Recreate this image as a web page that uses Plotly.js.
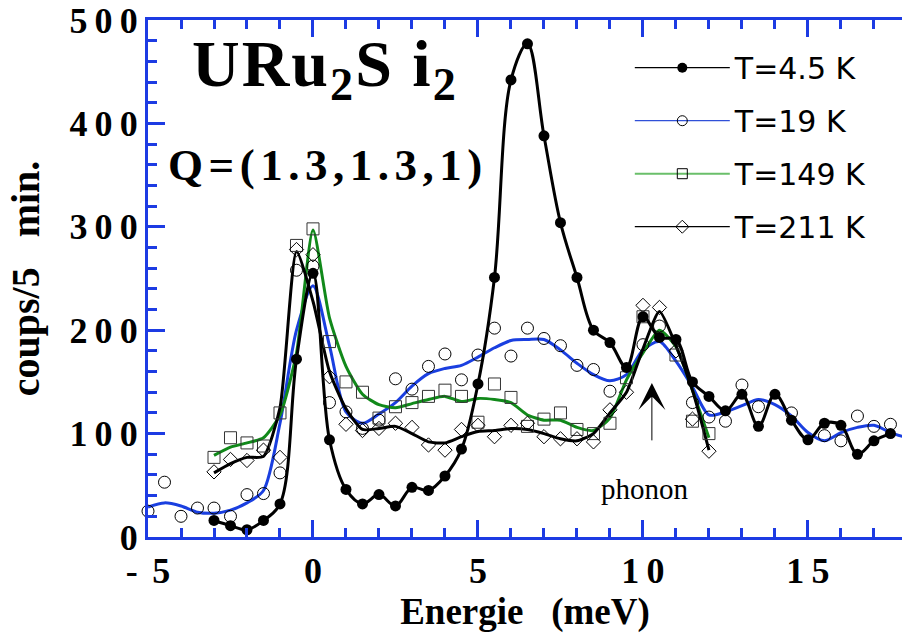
<!DOCTYPE html>
<html>
<head>
<meta charset="utf-8">
<script src="https://cdn.plot.ly/plotly-3.0.1.min.js"></script>
<style>html,body{margin:0;padding:0;background:#fff;}#chart{width:902px;height:633px;}</style>
</head>
<body>
<div id="chart"></div>
<script>
// ---- data (energy in meV, counts per 5 min) ----
// T = 4.5 K : filled circles (line through the points)
const e45 = [-3,-2.5,-2,-1.5,-1,-0.5,0,0.5,1,1.5,2,2.5,3,3.5,4,4.5,5,5.5,6,6.5,7,7.5,8,8.5,9,9.5,10,10.5,11,11.5,12,12.5,13,13.5,14,14.5,15,15.5,16,16.5,17,17.5];
const c45 = [16,11,7,16,32,172,255,94,46,32,41,30,48,45,59,85,148,251,442,477,388,304,251,200,188,164,213,193,191,150,136,122,138,107,138,113,94,110,108,80,93,100];

// T = 19 K : open circles
const e19 = [-5,-4.5,-4,-3.5,-3,-2.5,-2,-1.5,-1,-0.5,0,0.5,1,1.5,2,2.5,3,3.5,4,4.5,5,5.5,6,6.5,7,7.5,8,8.5,9,10,10.5,11.5,12,12.5,13,13.5,14.5,15.5,16,16.5,17,17.5];
const c19 = [25,53,20,28,28,20,41,42,62,258,262,130,121,105,113,153,143,165,177,152,176,202,175,202,192,185,166,162,141,186,204,130,116,112,147,126,120,98,93,117,107,109];
// T = 19 K : smoothed curve (blue)
const fit19e = [-5,-4.5,-4,-3.5,-3,-2.5,-2,-1.5,-1,-0.5,0,0.5,1,1.5,2,2.5,3,3.5,4,4.5,5,5.5,6,6.5,7,7.5,8,8.5,9,9.5,10,10.5,11,11.5,12,12.5,13,13.5,14,14.5,15,15.5,16,16.5,17,17.5,17.9];
const fit19c = [29,33,30,24,23,26,33,45,110,200,243,185,121,110,119,130,146,158,163,166,174,183,190,191,191,181,168,157,151,157,181,189,170,145,118,121,127,133,128,117,101,93,101,106,108,101,97];

// T = 149 K : open squares
const e149 = [-3,-2.5,-2,-1.5,-1,-0.5,0,0.5,1,1.5,2,2.5,3,3.5,4,4.5,5,5.5,6,6.5,7,7.5,8,8.5,9,9.5,10,11,11.5,12];
const c149 = [77,96,91,88,120,282,298,189,150,140,115,126,130,136,142,136,111,148,135,107,114,120,104,100,110,154,213,176,112,100];
// T = 149 K : smoothed curve (green)
const fit149e = [-3,-2.5,-2,-1.5,-1,-0.5,0,0.5,1,1.5,2,2.5,3,3.5,4,4.5,5,5.5,6,6.5,7,7.5,8,8.5,9,9.5,10,10.5,11,11.5,12];
const fit149c = [79,87,91,96,118,178,297,212,165,138,128,125,129,133,136,131,134,133,130,118,113,113,106,103,115,152,178,200,184,142,96];

// T = 211 K : open diamonds
const e211 = [-3,-2.5,-2,-1.5,-1,-0.5,0,0.5,1,1.5,2,2.5,3,3.5,4,4.5,5,5.5,6,6.5,7,7.5,8,8.5,9,9.5,10,10.5,11,11.5,12];
const c211 = [63,75,74,84,77,278,273,155,109,103,105,110,106,89,84,104,108,97,108,110,97,95,95,92,123,140,224,222,180,114,83];
// T = 211 K : smoothed curve (black)
const fit211e = [-3,-2.5,-2,-1.5,-1,-0.5,0,0.5,1,1.5,2,2.5,3,3.5,4,4.5,5,5.5,6,6.5,7,7.5,8,8.5,9,9.5,10,10.5,11,11.5,12];
const fit211c = [62,71,77,78,125,276,228,160,124,104,105,107,100,92,91,97,102,103,105,104,100,95,93,100,120,140,182,218,185,142,84];

const seriesNames = ['T=4.5 K','T=19 K','T=149 K','T=211 K'];
const TS = '\u2009'; // thin space, as in the spaced-out tick digits
const xTickVals = [-5,0,5,10,15];
const xTickText = ['-'+TS+TS+'5','0','5','1'+TS+'0','1'+TS+'5'];
const yTickVals = [0,100,200,300,400,500];
const yTickText = ['0','1'+TS+'0'+TS+'0','2'+TS+'0'+TS+'0','3'+TS+'0'+TS+'0','4'+TS+'0'+TS+'0','5'+TS+'0'+TS+'0'];

// ---- styles ----
const AX = '#1d3be3';
const BLUE = '#1a3fe0';
const GREEN = '#11891a';
const serif = 'Liberation Serif, Times New Roman, serif';

const traces = [
  // smoothed curves
  {x: fit19e, y: fit19c, mode:'lines', line:{color:BLUE, width:3, shape:'spline', smoothing:0.8}, showlegend:false, hoverinfo:'skip'},
  {x: fit149e, y: fit149c, mode:'lines', line:{color:GREEN, width:3, shape:'spline', smoothing:0.6}, showlegend:false, hoverinfo:'skip'},
  {x: fit211e, y: fit211c, mode:'lines', line:{color:'#000', width:3, shape:'spline', smoothing:0.6}, showlegend:false, hoverinfo:'skip'},
  // data points
  {x: e19, y: c19, mode:'markers', cliponaxis:false, marker:{symbol:'circle-open', size:12, color:'#000', line:{width:1}}, showlegend:false},
  {x: e149, y: c149, mode:'markers', cliponaxis:false, marker:{symbol:'square-open', size:12, color:'#333', line:{width:1}}, showlegend:false},
  {x: e211, y: c211, mode:'markers', cliponaxis:false, marker:{symbol:'diamond-open', size:11, color:'#000', line:{width:1}}, showlegend:false},
  {x: e45, y: c45, mode:'lines+markers', cliponaxis:false, line:{color:'#000', width:3, shape:'spline', smoothing:1}, marker:{symbol:'circle', size:11, color:'#000'}, showlegend:false},
  // legend entries
  {x:[null], y:[null], name:seriesNames[0], legendgroup:'a', mode:'lines+markers', line:{color:'#000', width:1.3}, marker:{symbol:'circle', size:10, color:'#000'}},
  {x:[null], y:[null], name:seriesNames[1], legendgroup:'b', mode:'lines+markers', line:{color:'#3050d8', width:1.3}, marker:{symbol:'circle-open', size:10, color:'#000', line:{width:1}}},
  {x:[null], y:[null], name:seriesNames[2], legendgroup:'c', mode:'lines+markers', line:{color:'#6abf6a', width:2}, marker:{symbol:'square-open', size:10, color:'#000', line:{width:1}}},
  {x:[null], y:[null], name:seriesNames[3], legendgroup:'d', mode:'lines+markers', line:{color:'#000', width:1.3}, marker:{symbol:'diamond-open', size:10, color:'#000', line:{width:1}}}
];

const layout = {
  width: 902, height: 633,
  margin: {l:148, r:0, t:20, b:96, pad:0},
  paper_bgcolor:'#fff', plot_bgcolor:'#fff',
  showlegend: true,
  legend: {x:0.639, xanchor:'left', y:0.958, yanchor:'top', bgcolor:'rgba(0,0,0,0)', borderwidth:0,
           font:{family:'DejaVu Sans', size:30, color:'#000'}, itemwidth:95, tracegroupgap:11, traceorder:'grouped'},
  xaxis: {
    range:[-5, 17.85], showgrid:false, zeroline:false,
    showline:true, linecolor:AX, linewidth:3, mirror:'ticks',
    tickmode:'array', tickvals:xTickVals, ticktext:xTickText,
    ticks:'inside', ticklen:17, tickwidth:3, tickcolor:AX,
    minor:{tickmode:'linear', tick0:0, dtick:1, ticks:'inside', ticklen:9, tickwidth:3, tickcolor:AX, showgrid:false},
    tickfont:{family:serif, size:36, color:'#000', weight:'bold'},
    title:{text:'Energie\u00a0\u00a0\u00a0(meV)', font:{family:serif, size:37, color:'#000', weight:'bold'}, standoff:6}
  },
  yaxis: {
    range:[0,500], showgrid:false, zeroline:false,
    showline:true, linecolor:AX, linewidth:3, mirror:false,
    tickmode:'array', tickvals:yTickVals, ticktext:yTickText,
    ticks:'inside', ticklen:17, tickwidth:3, tickcolor:AX,
    minor:{tickmode:'linear', tick0:0, dtick:20, ticks:'inside', ticklen:9, tickwidth:3, tickcolor:AX, showgrid:false},
    tickfont:{family:serif, size:36, color:'#000', weight:'bold'},
    title:{text:'coups/5\u00a0\u00a0\u00a0min.\u00a0\u00a0', font:{family:serif, size:40, color:'#000', weight:'bold'}, standoff:18}
  },
  yaxis2: {
    overlaying:'y', side:'right', range:[0,500], showgrid:false, zeroline:false, showline:false,
    showticklabels:false, tickmode:'linear', tick0:0, dtick:100,
    ticks:'inside', ticklen:12, tickwidth:3, tickcolor:AX,
    minor:{tickmode:'linear', tick0:0, dtick:20, ticks:'inside', ticklen:4, tickwidth:3, tickcolor:AX, showgrid:false}
  },
  annotations: [
    {xref:'paper', yref:'paper', x:0.056, y:0.99, xanchor:'left', yanchor:'top', showarrow:false,
     text:'<span style="letter-spacing:2px">URu<sub>2</sub>S i<sub>2</sub></span>', font:{family:serif, size:66, color:'#000', weight:'bold'}},
    {xref:'paper', yref:'paper', x:0.0245, y:0.72, xanchor:'left', yanchor:'middle', showarrow:false,
     text:'<span style="letter-spacing:5.5px">Q=(1.3,1.3,1)</span>', font:{family:serif, size:45, color:'#000', weight:'bold'}},
    {xref:'paper', yref:'paper', x:0.659, y:0.093, xanchor:'center', yanchor:'middle', showarrow:false,
     text:'phonon', font:{family:serif, size:29, color:'#000'}},
    {xref:'x', yref:'y', x:10.27, y:149, axref:'x', ayref:'y', ax:10.27, ay:92, text:'', showarrow:true,
     arrowhead:3, arrowsize:4.5, arrowwidth:1, arrowcolor:'#000'}
  ]
};

Plotly.newPlot('chart', traces, layout, {displayModeBar:false, staticPlot:true});
</script>
</body>
</html>
